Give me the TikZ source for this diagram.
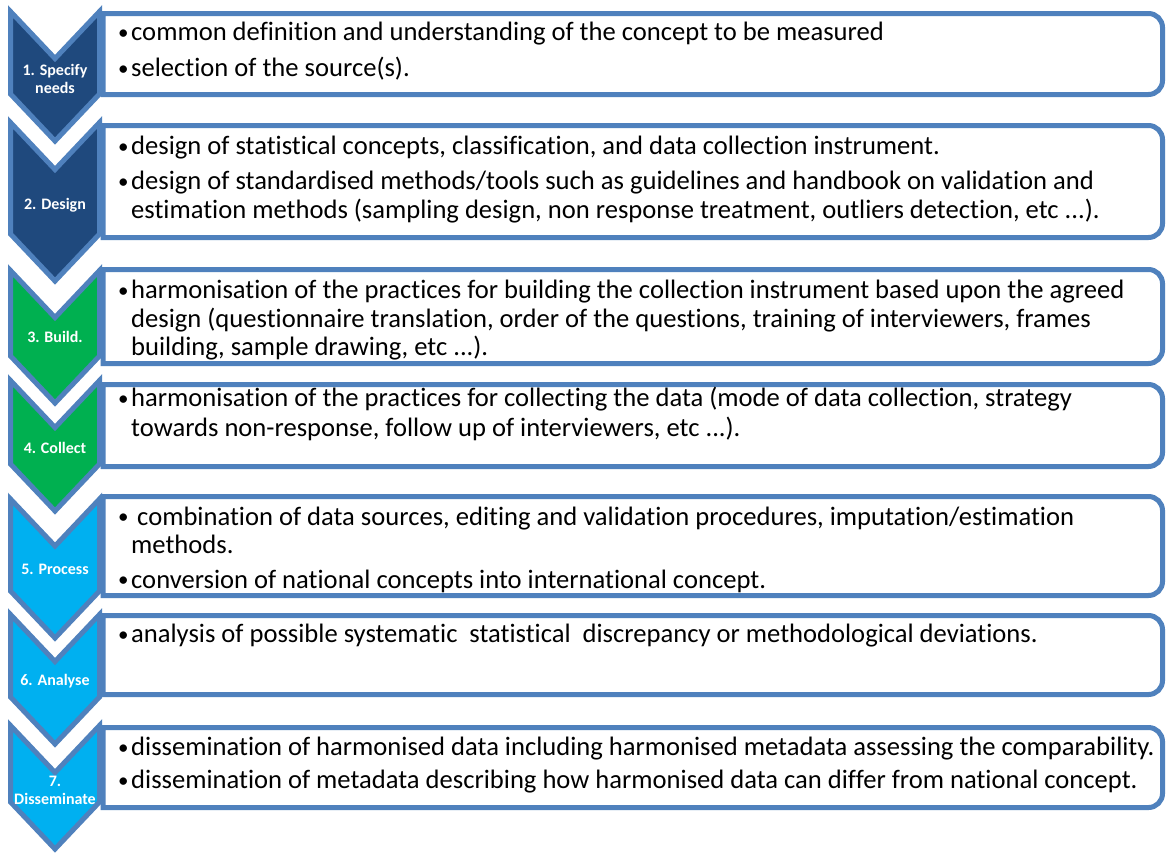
\documentclass[tikz,border=0pt]{standalone}
\usepackage{fontspec}
\setmainfont{Carlito}[Ligatures=NoCommon]
\definecolor{edge}{RGB}{79,129,189}
\definecolor{navy}{RGB}{31,73,125}
\definecolor{leaf}{RGB}{0,176,80}
\definecolor{sky}{RGB}{0,176,240}
\tikzset{
  chev/.style={draw=edge,line width=5pt,line join=miter},
  panel/.style={draw=edge,line width=5pt,fill=white},
  steplabel/.style={text=white,font=\fontsize{16}{18}\selectfont\bfseries,align=center,inner sep=0pt},
  itemline/.style={anchor=base west,inner sep=0pt,font=\fontsize{26.6}{30}\selectfont},
}
% chevron: top edge y, side end y, fill colour
\newcommand{\chevshape}[3]{%
  \filldraw[chev,fill=#3] (10.5,#1) -- (55,#1+47) -- (99.5,#1) -- (99.5,#2)
    -- (55,#2+47) -- (10.5,#2) -- cycle;}
% text panel: square on the left, rounded on the right
\newcommand{\infobox}[2]{%
  \draw[panel] (103,#2) -- (103,#1) -- (1148.5,#1)
    arc[start angle=270,end angle=360,radius=14] -- (1162.5,#2-14)
    arc[start angle=0,end angle=90,radius=14] -- cycle;}
% bullet with hanging indent
\newcommand{\bul}{\makebox[13pt][l]{\raisebox{1.5pt}{\fontsize{21}{21}\selectfont•}}}
\begin{document}
\begin{tikzpicture}[x=1pt,y=-1pt]
\useasboundingbox (0,0) rectangle (1167,852);
\fill[white] (0,0) rectangle (1167,852);

% step chevrons
\chevshape{11.5}{94}{navy}
\chevshape{122.5}{234}{navy}
\chevshape{270.5}{356}{leaf}
\chevshape{380.5}{464}{leaf}
\chevshape{499}{591}{sky}
\chevshape{614.5}{697}{sky}
\chevshape{725.5}{802}{sky}

% text panels
\infobox{13.5}{94.5}
\infobox{125.5}{237.5}
\infobox{269.5}{363.5}
\infobox{384.5}{466.5}
\infobox{496.5}{595.5}
\infobox{615.5}{694.5}
\infobox{727.5}{807.5}

% step labels
\node[steplabel] (s1) at (55,78.5) {1. Specify\\needs};
\node[steplabel] (s2) at (55,205) {2. Design};
\node[steplabel] (s3) at (55,337) {3. Build.};
\node[steplabel] (s4) at (55,448) {4. Collect};
\node[steplabel] (s5) at (55,569) {5. Process};
\node[steplabel] (s6) at (55,681) {6. Analyse};
\node[steplabel] (s7) at (55,790.5) {7.\\Disseminate};

% panel texts
\node[itemline] (t1a) at (118,40.5) {\bul common definition and understanding of the concept to be measured};
\node[itemline] (t1b) at (118,76.5) {\bul selection of the source(s).};

\node[itemline] (t2a) at (118,154.5) {\bul design of statistical concepts, classification, and data collection instrument.};
\node[itemline] (t2b) at (118,189.5) {\bul design of standardised methods/tools such as guidelines and handbook on validation and};
\node[itemline] (t2c) at (131,218) {estimation methods (sampling design, non response treatment, outliers detection, etc ...).};

\node[itemline] (t3a) at (118,298.5) {\bul harmonisation of the practices for building the collection instrument based upon the agreed};
\node[itemline] (t3b) at (131,327) {design (questionnaire translation, order of the questions, training of interviewers, frames};
\node[itemline] (t3c) at (131,355.5) {building, sample drawing, etc ...).};

\node[itemline] (t4a) at (118,406.5) {\bul harmonisation of the practices for collecting the data (mode of data collection, strategy};
\node[itemline] (t4b) at (131,436.5) {towards non-response, follow up of interviewers, etc ...).};

\node[itemline] (t5a) at (118,525) {\bul{} combination of data sources, editing and validation procedures, imputation/estimation};
\node[itemline] (t5b) at (131,553.5) {methods.};
\node[itemline] (t5c) at (118,588) {\bul conversion of national concepts into international concept.};

\node[itemline] (t6a) at (118,642.5) {\bul analysis of possible systematic\ \ statistical\ \ discrepancy or methodological deviations.};

\node[itemline] (t7a) at (118,755.5) {\bul dissemination of harmonised data including harmonised metadata assessing the comparability.};
\node[itemline] (t7b) at (118,788.5) {\bul dissemination of metadata describing how harmonised data can differ from national concept.};
\end{tikzpicture}
\end{document}
